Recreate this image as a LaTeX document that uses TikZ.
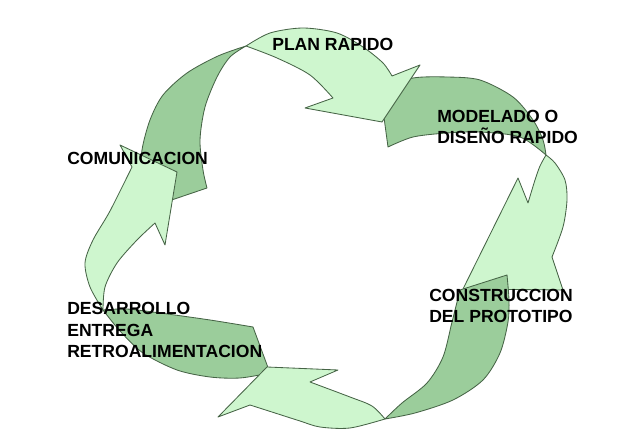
\documentclass[tikz,border=0pt]{standalone}
\usepackage{fontspec}
\setmainfont{Liberation Sans}
\usepackage{xcolor}
\definecolor{lightgr}{RGB}{206,246,206}
\definecolor{darkgr}{RGB}{155,205,155}
\definecolor{edgegr}{RGB}{70,100,70}

\begin{document}
\begin{tikzpicture}[x=0.025cm, y=-0.025cm]
    % Styles:
    \tikzset{lightside/.style={fill=lightgr, draw=edgegr, line width=0.6pt, line join=round}}
    \tikzset{darkside/.style={fill=darkgr, draw=edgegr, line width=0.6pt, line join=round}}
    \tikzset{phase/.style={font=\bfseries\fontsize{12.5}{15.3}\selectfont, anchor=base west, align=left, inner sep=0pt}}

    \useasboundingbox (0,0) rectangle (640,438);

    % Right arrow (tail under the top head):
    \path[darkside] plot[smooth] coordinates {(380,88) (413,78) (447,77) (480,80) (513,97) (533,120) (543,140) (546,155)}
        -- plot[smooth] coordinates {(546,155) (520,137) (480,132) (447,133) (413,137) (388,147)} -- cycle;
    \path[lightside] plot[smooth] coordinates {(546,155) (555,163) (565,180) (567,200) (563,227) (552,257)}
        -- (563,290) -- (463,289) -- (518,178)
        -- plot[smooth] coordinates {(528,203) (535,180) (540,166) (546,155)} -- cycle;

    % Top arrow:
    \path[darkside] plot[smooth] coordinates {(148,208) (142,175) (142,150) (150,120) (163,95) (187,73) (218,56) (246,46)}
        -- plot[smooth] coordinates {(246,46) (230,57) (217,77) (205,107) (200,140) (203,170) (207,188)} -- cycle;
    \path[lightside] plot[smooth] coordinates {(246,46) (270,33) (303,28) (337,33) (363,47) (383,63) (392,76)}
        -- (420,65) -- (382,122) -- (305,108)
        -- plot[smooth] coordinates {(333,98) (310,75) (277,58) (246,46)} -- cycle;

    % Left arrow:
    \path[darkside] plot[smooth] coordinates {(270,373) (240,378) (210,377) (177,370) (143,353) (120,331) (103,310)}
        -- plot[smooth] coordinates {(103,310) (127,309) (160,313) (210,320) (253,327)} -- cycle;
    \path[lightside] plot[smooth] coordinates {(103,310) (90,287) (85,263) (93,240) (110,211) (132,167)}
        -- (120,145) -- (177,172) -- (165,245)
        -- plot[smooth] coordinates {(155,223) (137,240) (117,263) (105,287) (103,310)} -- cycle;

    % Bottom arrow (tail over the right head):
    \path[darkside] plot[smooth] coordinates {(507,275) (509,300) (508,322) (500,353) (483,380) (453,400) (415,413) (385,419)}
        -- plot[smooth] coordinates {(385,419) (402,403) (427,383) (443,357) (452,322) (460,290)} -- cycle;
    \path[lightside] plot[smooth] coordinates {(385,419) (350,428) (320,427) (300,421) (275,413) (250,405)}
        -- (218,417) -- (267,367) -- (338,370)
        -- plot[smooth] coordinates {(310,382) (350,397) (372,406) (385,419)} -- cycle;

    % Labels (base = last line):
    \node[phase] (plan) at (272,51) {PLAN RAPIDO};
    \node[phase] (mod)  at (437,144) {MODELADO O\\DISEÑO RAPIDO};
    \node[phase] (com)  at (67,165) {COMUNICACION};
    \node[phase] (cons) at (429,323) {CONSTRUCCION\\DEL PROTOTIPO};
    \node[phase] (des)  at (67,358) {DESARROLLO\\ENTREGA\\RETROALIMENTACION};
\end{tikzpicture}
\end{document}
